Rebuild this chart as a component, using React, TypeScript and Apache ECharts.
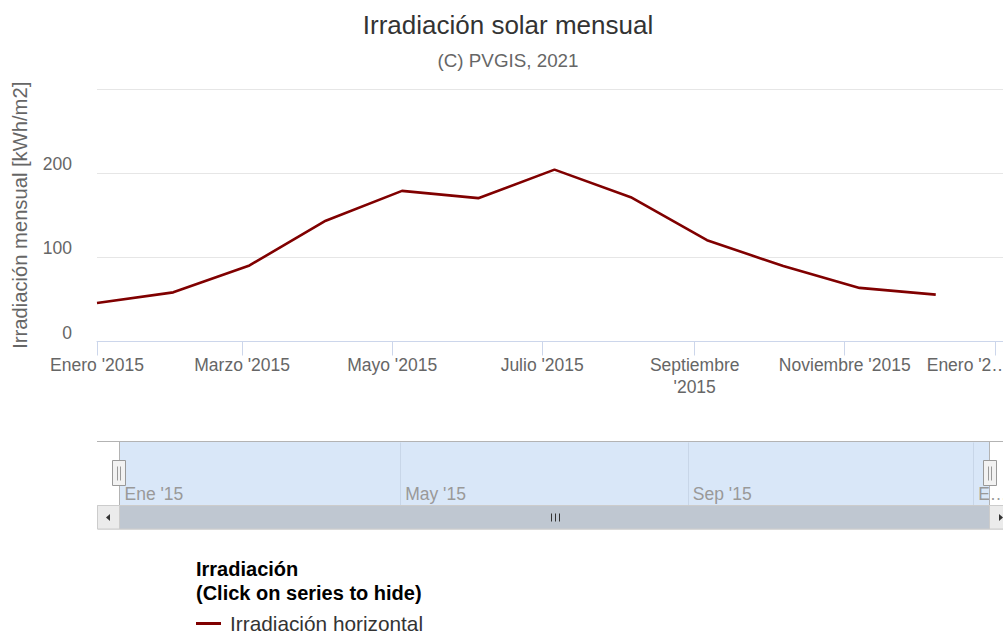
import React, { useEffect, useRef } from "react";
import * as echarts from "echarts";

// ---- data ----
const pointDates = [
  "2015-01-01", "2015-02-01", "2015-03-04", "2015-04-04", "2015-05-05", "2015-06-05",
  "2015-07-06", "2015-08-06", "2015-09-06", "2015-10-07", "2015-11-07", "2015-12-08",
];
const irradiation = [45.7, 58.4, 90.4, 143.5, 179.0, 170.3, 204.2, 171.5, 120.4, 89.6, 63.7, 55.7];
const seriesName = "Irradiación horizontal";
const axisStart = "2015-01-01";
const axisEnd = "2016-01-08";
const mainTickDates = ["2015-01-01", "2015-03-01", "2015-05-01", "2015-07-01", "2015-09-01", "2015-11-01", "2016-01-01"];
const mainTickLabels = ["Enero '2015", "Marzo '2015", "Mayo '2015", "Julio '2015", "Septiembre\n'2015", "Noviembre '2015", "Enero '2…"];
const navTickDates = ["2015-01-01", "2015-05-01", "2015-09-01", "2016-01-01"];
const navTickLabels = ["Ene '15", "May '15", "Sep '15", "E…"];
const yMin = 0;
const yMax = 300;
const yStep = 100;

const FONT = "'Liberation Sans', Arial, Helvetica, sans-serif";

// day number (since axisStart) of an ISO date, used as the x value
function dayOf(s: string): number {
  const [y, m, d] = s.split("-").map(Number);
  const [y0, m0, d0] = axisStart.split("-").map(Number);
  return Math.round((Date.UTC(y, m - 1, d) - Date.UTC(y0, m0 - 1, d0)) / 86400000);
}

const mainTicks = mainTickDates.map(dayOf);
const navTicks = navTickDates.map(dayOf);

export default function App() {
  const ref = useRef<HTMLDivElement>(null);
  useEffect(() => {
    const chart = echarts.init(ref.current!, null, { renderer: "svg" });
    const navLeft = 119.5;
    const navRight = 989.5;
    const navTop = 441.5;
    const sbTop = 505.5;
    const sbH = 23.5;
    const thumbMid = (navLeft + navRight) / 2;
    const option: any = {
      animation: false,
      textStyle: { fontFamily: FONT },
      title: [
        {
          text: "Irradiación solar mensual",
          left: "center",
          top: 12,
          padding: 0,
          textStyle: { fontSize: 26, fontWeight: "normal", color: "#333", fontFamily: FONT },
        },
        {
          text: "(C) PVGIS, 2021",
          left: "center",
          top: 51,
          padding: 0,
          textStyle: { fontSize: 18.8, fontWeight: "normal", color: "#666", fontFamily: FONT },
        },
        {
          text: "Irradiación\n(Click on series to hide)",
          left: 196,
          top: 557,
          padding: 0,
          textStyle: { fontSize: 20, fontWeight: "bold", color: "#000", lineHeight: 24, fontFamily: FONT },
        },
      ],
      legend: {
        data: [seriesName],
        left: 196,
        top: 613,
        padding: 0,
        icon: "rect",
        itemWidth: 25,
        itemHeight: 3,
        textStyle: { fontSize: 20.8, lineHeight: 19, color: "#333", fontFamily: FONT, padding: [0, 0, 0, 4] },
      },
      grid: [
        { left: 97, top: 89, width: 915, height: 252.5, containLabel: false, outerBoundsMode: "none" },
        {
          left: navLeft,
          top: navTop + 0.5,
          width: navRight - navLeft,
          height: sbTop - navTop - 0.5,
          show: true,
          backgroundColor: "#d9e7f8",
          borderWidth: 0,
          outerBoundsMode: "none",
        },
      ],
      xAxis: [
        {
          type: "value",
          gridIndex: 0,
          min: dayOf(axisStart),
          max: dayOf(axisEnd),
          axisLine: { show: true, lineStyle: { color: "#ccd6eb", width: 1 } },
          axisTick: { show: true, length: 14, customValues: mainTicks, lineStyle: { color: "#ccd6eb" } },
          splitLine: { show: false },
          axisLabel: {
            customValues: mainTicks,
            margin: 12,
            fontSize: 17.5,
            lineHeight: 22,
            color: "#666",
            fontFamily: FONT,
            hideOverlap: false,
            showMinLabel: true,
            showMaxLabel: true,
            formatter: (v: number) => {
              const i = mainTicks.indexOf(Math.round(v));
              if (i < 0) return "";
              if (i === mainTicks.length - 1) return "{last|" + mainTickLabels[i] + "}";
              return mainTickLabels[i];
            },
            rich: {
              last: { fontSize: 17.5, color: "#666", fontFamily: FONT, padding: [0, 54, 0, 0] },
            },
          },
        },
        {
          type: "value",
          gridIndex: 1,
          min: dayOf(axisStart),
          max: dayOf(axisEnd),
          axisLine: { show: false },
          axisTick: {
            show: true,
            inside: true,
            length: sbTop - navTop - 1,
            customValues: navTicks,
            lineStyle: { color: "#c8d6e8" },
          },
          splitLine: { show: false },
          axisLabel: {
            inside: true,
            customValues: navTicks,
            align: "left",
            margin: 3,
            padding: [0, 0, 0, 5],
            fontSize: 17.5,
            color: "#999",
            fontFamily: FONT,
            hideOverlap: false,
            showMinLabel: true,
            showMaxLabel: true,
            formatter: (v: number) => {
              const i = navTicks.indexOf(Math.round(v));
              return i < 0 ? "" : navTickLabels[i];
            },
          },
        },
      ],
      yAxis: [
        {
          type: "value",
          gridIndex: 0,
          min: yMin,
          max: yMax,
          interval: yStep,
          name: "Irradiación mensual [kWh/m2]",
          nameLocation: "middle",
          nameRotate: 90,
          nameGap: 67,
          nameTextStyle: { fontSize: 20.2, color: "#666", fontFamily: FONT },
          axisLine: { show: false },
          axisTick: { show: false },
          splitLine: { show: true, lineStyle: { color: "#e6e6e6", width: 1 } },
          axisLabel: {
            showMaxLabel: false,
            verticalAlign: "bottom",
            margin: 25,
            fontSize: 17.5,
            color: "#666",
            fontFamily: FONT,
          },
        },
        { type: "value", gridIndex: 1, show: false, min: 0, max: 1 },
      ],
      series: [
        {
          name: seriesName,
          type: "line",
          xAxisIndex: 0,
          yAxisIndex: 0,
          data: pointDates.map((d, i) => [dayOf(d), irradiation[i]]),
          showSymbol: false,
          symbol: "none",
          lineStyle: { color: "#800000", width: 2.6 },
          itemStyle: { color: "#800000" },
        },
      ],
      graphic: [
        {
          type: "line",
          z: 100,
          shape: { x1: 97, y1: navTop, x2: 1016, y2: navTop },
          style: { stroke: "#b3b3b3", lineWidth: 1 },
        },
        {
          type: "line",
          z: 100,
          shape: { x1: navLeft, y1: navTop, x2: navLeft, y2: sbTop },
          style: { stroke: "#b3b3b3", lineWidth: 1 },
        },
        {
          type: "line",
          z: 100,
          shape: { x1: navRight, y1: navTop, x2: navRight, y2: sbTop },
          style: { stroke: "#b3b3b3", lineWidth: 1 },
        },
        {
          type: "rect",
          z: 100,
          shape: { x: 97.5, y: sbTop, width: 918, height: sbH },
          style: { fill: "#f2f2f2", stroke: "#cccccc", lineWidth: 1 },
        },
        {
          type: "rect",
          z: 101,
          shape: { x: navLeft, y: sbTop, width: navRight - navLeft, height: sbH },
          style: { fill: "#bfc7d1", stroke: "#cccccc", lineWidth: 1 },
        },
        ...[-4, 0, 4].map((dx) => ({
          type: "line",
          z: 102,
          shape: { x1: Math.round(thumbMid + dx) + 0.5, y1: 513.5, x2: Math.round(thumbMid + dx) + 0.5, y2: 521.5 },
          style: { stroke: "#333", lineWidth: 1 },
        })),
        {
          type: "rect",
          z: 101,
          shape: { x: 97.5, y: sbTop, width: 22, height: sbH },
          style: { fill: "#ebebeb", stroke: "#cccccc", lineWidth: 1 },
        },
        {
          type: "polygon",
          z: 102,
          shape: { points: [[106, 517.5], [110, 514], [110, 521]] },
          style: { fill: "#333" },
        },
        {
          type: "rect",
          z: 101,
          shape: { x: navRight, y: sbTop, width: 22, height: sbH },
          style: { fill: "#ebebeb", stroke: "#cccccc", lineWidth: 1 },
        },
        {
          type: "polygon",
          z: 102,
          shape: { points: [[1003, 517.5], [999, 514], [999, 521]] },
          style: { fill: "#333" },
        },
        ...[119, 989.5].map((cx) => ({
          type: "group",
          z: 103,
          children: [
            {
              type: "rect",
              z: 103,
              shape: { x: Math.round(cx - 7) + 0.5, y: 460.5, width: 13, height: 25 },
              style: { fill: "#f2f2f2", stroke: "#999999", lineWidth: 1 },
            },
            {
              type: "line",
              z: 104,
              shape: { x1: Math.round(cx - 2) + 0.5, y1: 466.5, x2: Math.round(cx - 2) + 0.5, y2: 480.5 },
              style: { stroke: "#999999", lineWidth: 1 },
            },
            {
              type: "line",
              z: 104,
              shape: { x1: Math.round(cx + 1) + 0.5, y1: 466.5, x2: Math.round(cx + 1) + 0.5, y2: 480.5 },
              style: { stroke: "#999999", lineWidth: 1 },
            },
          ],
        })),
      ],
    };
    chart.setOption(option);
    return () => chart.dispose();
  }, []);
  return (
    <div
      style={{
        position: "absolute",
        left: 0,
        top: 0,
        width: 1003,
        height: 632,
        overflow: "hidden",
        background: "#fff",
      }}
    >
      <div ref={ref} style={{ width: 1016, height: 632 }} />
    </div>
  );
}
